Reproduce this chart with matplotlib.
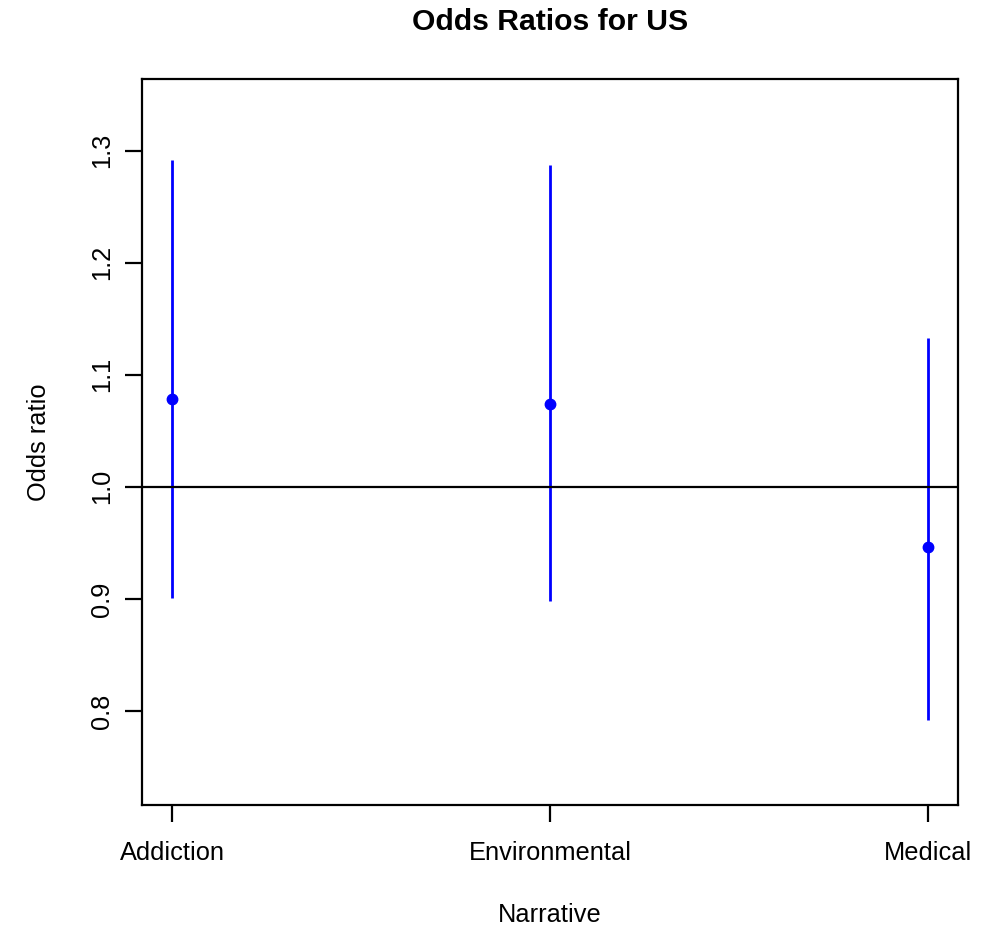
import matplotlib.pyplot as plt
import numpy as np

plt.rcParams['font.family'] = ['Liberation Sans', 'DejaVu Sans']

narratives = ["Addiction", "Environmental", "Medical"]
odds = [1.078, 1.074, 0.946]
lower = [0.901, 0.898, 0.792]
upper = [1.292, 1.287, 1.133]
yticks = [0.8, 0.9, 1.0, 1.1, 1.2, 1.3]

fig = plt.figure(figsize=(9.88, 9.25), dpi=100)
ax = fig.add_axes([0.1437, 0.1297, 0.9696 - 0.1437, 0.9146 - 0.1297])

x = np.arange(1, len(narratives) + 1)

# confidence intervals
ax.vlines(x, lower, upper, color="blue", linewidth=2)
ax.plot(x, odds, "o", color="blue", markersize=7.5)
ax.axhline(1.0, color="black", linewidth=1.6)

ax.set_xlim(0.92, 3.08)
ax.set_ylim(0.716, 1.364)

ax.set_xticks(x)
ax.set_xticklabels(narratives)
ax.set_yticks(yticks)
ax.set_yticklabels(["%.1f" % v for v in yticks], rotation=90, va="center")

ax.tick_params(axis="both", length=12, width=1.6, labelsize=18.3, colors="black")
ax.tick_params(axis="x", pad=14)
ax.tick_params(axis="y", pad=8)
for s in ax.spines.values():
    s.set_linewidth(1.6)

ax.set_title("Odds Ratios for US", fontsize=21.7, fontweight="bold", pad=35)
ax.set_xlabel("Narrative", fontsize=18.3, labelpad=27)
ax.set_ylabel("Odds ratio", fontsize=18.3, labelpad=28)

fig.savefig("out.png", dpi=100)
